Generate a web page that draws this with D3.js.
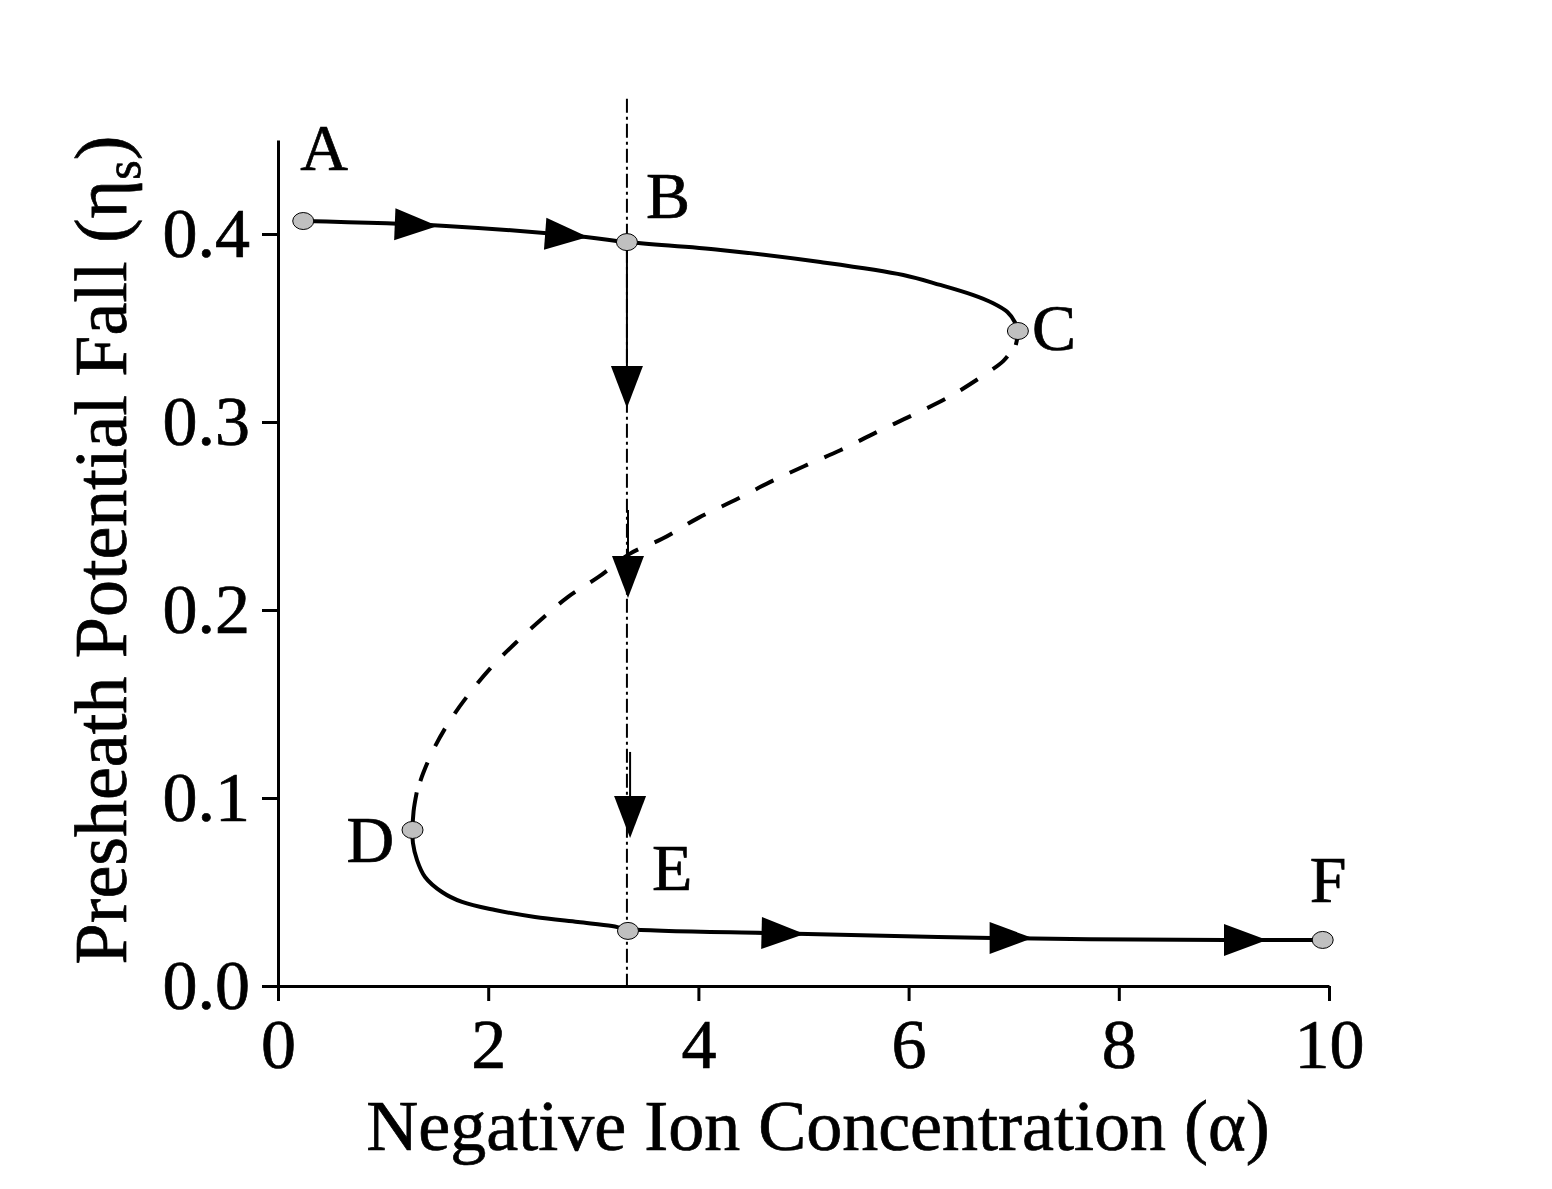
<!DOCTYPE html>
<html>
<head>
<meta charset="utf-8">
<script src="https://cdn.jsdelivr.net/npm/d3@7"></script>
<style>
  body { margin: 0; background: #fff; }
  text { font-family: "Liberation Serif", "Times New Roman", serif; fill: #000; stroke: #000; stroke-width: 0.7px; }
</style>
</head>
<body>
<svg id="chart" width="1552" height="1189"></svg>
<script>
// alpha (x) and eta_s (y)
const upperBranch = [
  [0.24, 0.4069], [1.60, 0.4043], [2.93, 0.3984], [3.32, 0.3957], [4.21, 0.3915],
  [5.16, 0.3851], [5.95, 0.3782], [6.30, 0.3729], [6.61, 0.3676], [6.80, 0.3633],
  [6.94, 0.3585], [7.01, 0.3532], [7.04, 0.3484], [7.02, 0.341]
]
const middleBranch = [
  [7.02, 0.341], [6.90, 0.3324], [6.76, 0.3266], [6.40, 0.3138], [6.04, 0.3037],
  [5.70, 0.2947], [5.35, 0.285], [5.01, 0.2766], [4.68, 0.268], [4.35, 0.2585],
  [4.00, 0.249], [3.66, 0.238], [3.35, 0.230], [3.05, 0.2176], [2.76, 0.207],
  [2.52, 0.1957], [2.27, 0.183], [2.02, 0.169], [1.81, 0.1548], [1.64, 0.1415],
  [1.49, 0.127], [1.38, 0.113], [1.32, 0.103]
]
const lowerBranch = [
  [1.32, 0.103], [1.29, 0.093], [1.28, 0.083], [1.284, 0.0761], [1.323, 0.067],
  [1.399, 0.058], [1.56, 0.050], [1.751, 0.0447], [2.065, 0.0404], [2.445, 0.0367],
  [2.854, 0.034], [3.178, 0.0319], [3.33, 0.0303], [4.63, 0.0282], [5.04, 0.0277],
  [6.79, 0.0255], [9.01, 0.0245], [9.94, 0.0245]
]
const points = [
  { name: "A", a: 0.24, eta: 0.4069 },
  { name: "B", a: 3.32, eta: 0.3957 },
  { name: "C", a: 7.04, eta: 0.3484 },
  { name: "D", a: 1.28, eta: 0.083 },
  { name: "E", a: 3.33, eta: 0.0293 },
  { name: "F", a: 9.94, eta: 0.0245 }
]
// arrow tips along the curve (alpha, eta, alpha of the tail)
const flowArrows = [
  [1.52, 0.4043, 1.12], [2.95, 0.3984, 2.55],
  [5.01, 0.0277, 4.63], [7.18, 0.0255, 6.79], [9.41, 0.0245, 9.01]
]
// jump arrows on the alpha = 3.32 line: [alpha, eta start, eta tip]
const jumpArrows = [[3.32, 0.3957, 0.3074], [3.33, 0.2532, 0.2064], [3.35, 0.1245, 0.0787]]
const jumpLine = { a: 3.32, from: 0, to: 0.472 }
const xTicks = [0, 2, 4, 6, 8, 10]
const xMinor = [1, 3, 5, 7, 9]
const yTicks = [0, 0.1, 0.2, 0.3, 0.4]
const yMinor = [0.05, 0.15, 0.25, 0.35, 0.45]

const labelOffset = { A: [-3, -51], B: [19, -24], C: [14, 19], D: [-66, 32], E: [24, -41], F: [-13, -38] }

const svg = d3.select("#chart")
const x = d3.scaleLinear().domain([0, 10]).range([278, 1329])
const y = d3.scaleLinear().domain([0, 0.45]).range([986, 140])

// axes
const gx = svg.append("g").attr("transform", `translate(0,${y(0)})`)
gx.call(d3.axisBottom(x).tickValues(xMinor).tickSize(8).tickFormat("").tickSizeOuter(0))
gx.call(d3.axisBottom(x).tickValues(xTicks).tickSize(15).tickPadding(17).tickFormat(d3.format("d")).tickSizeOuter(0))
const gy = svg.append("g").attr("transform", `translate(${x(0)},0)`)
gy.call(d3.axisLeft(y).tickValues(yMinor).tickSize(8).tickFormat("").tickSizeOuter(0))
gy.call(d3.axisLeft(y).tickValues(yTicks).tickSize(16).tickPadding(12).tickFormat(d3.format(".1f")).tickSizeOuter(0))
svg.selectAll(".domain").attr("stroke", "#000").attr("stroke-width", 3)
svg.selectAll(".tick line").attr("stroke", "#000").attr("stroke-width", 3)
svg.selectAll(".tick text").attr("font-size", 70).attr("font-family", "Liberation Serif, Times New Roman, serif")
  .attr("fill", "#000").attr("stroke", "#000").attr("stroke-width", 0.7)

// axis titles
svg.append("text")
  .attr("x", 818).attr("y", 1150)
  .attr("text-anchor", "middle").attr("font-size", 72)
  .text("Negative Ion Concentration (α)")
const yt = svg.append("text")
  .attr("transform", "translate(126,550) rotate(-90)")
  .attr("text-anchor", "middle").attr("font-size", 74)
yt.append("tspan").text("Presheath Potential Fall (η")
yt.append("tspan").attr("font-size", 50).attr("dy", 14).text("s")
yt.append("tspan").attr("dy", -14).text(")")

// vertical dash-dot line
svg.append("line")
  .attr("x1", x(jumpLine.a)).attr("x2", x(jumpLine.a))
  .attr("y1", y(jumpLine.to)).attr("y2", y(jumpLine.from))
  .attr("stroke", "#000").attr("stroke-width", 2)
  .attr("stroke-dasharray", "14,4,3,4")

// curve
const line = d3.line().x(d => x(d[0])).y(d => y(d[1])).curve(d3.curveCatmullRom.alpha(0.5))
svg.append("path").attr("d", line(upperBranch))
  .attr("fill", "none").attr("stroke", "#000").attr("stroke-width", 4)
svg.append("path").attr("d", line(middleBranch))
  .attr("fill", "none").attr("stroke", "#000").attr("stroke-width", 4)
  .attr("stroke-dasharray", "20,18").attr("stroke-dashoffset", -14)
svg.append("path").attr("d", line(lowerBranch))
  .attr("fill", "none").attr("stroke", "#000").attr("stroke-width", 4)

// arrows along the curve
const arrowLen = 43, arrowHalf = 16
svg.selectAll(".flow")
  .data(flowArrows)
  .join("path")
  .attr("class", "flow")
  .attr("d", `M0,0L${-arrowLen},${-arrowHalf}L${-arrowLen},${arrowHalf}Z`)
  .attr("transform", d => {
    const branch = d[1] > 0.2 ? upperBranch : lowerBranch
    const pts = branch.filter((p, i) => i === 0 || p[0] > branch[i - 1][0])
    const interp = d3.scaleLinear().domain(pts.map(p => p[0])).range(pts.map(p => p[1]))
    const ang = Math.atan2(y(d[1]) - y(interp(d[2])), x(d[0]) - x(d[2])) * 180 / Math.PI
    return `translate(${x(d[0])},${y(d[1])}) rotate(${ang})`
  })
  .attr("fill", "#000")

// jump arrows
svg.selectAll(".shaft")
  .data(jumpArrows)
  .join("line")
  .attr("class", "shaft")
  .attr("x1", d => x(d[0])).attr("x2", d => x(d[0]))
  .attr("y1", d => y(d[1])).attr("y2", d => y(d[2]) - 20)
  .attr("stroke", "#000").attr("stroke-width", 2)
svg.selectAll(".head")
  .data(jumpArrows)
  .join("path")
  .attr("class", "head")
  .attr("d", d => `M${x(d[0])},${y(d[2])}L${x(d[0]) - 16},${y(d[2]) - 42}L${x(d[0]) + 16},${y(d[2]) - 42}Z`)
  .attr("fill", "#000")

// markers and labels
svg.selectAll(".pt")
  .data(points)
  .join("ellipse")
  .attr("class", "pt")
  .attr("cx", d => x(d.a)).attr("cy", d => y(d.eta))
  .attr("rx", 10.5).attr("ry", 8.5)
  .attr("fill", "#c0c0c0").attr("stroke", "#000").attr("stroke-width", 1)
svg.selectAll(".lbl")
  .data(points)
  .join("text")
  .attr("class", "lbl")
  .attr("x", d => x(d.a) + labelOffset[d.name][0])
  .attr("y", d => y(d.eta) + labelOffset[d.name][1])
  .attr("font-size", 66)
  .text(d => d.name)
</script>
</body>
</html>
